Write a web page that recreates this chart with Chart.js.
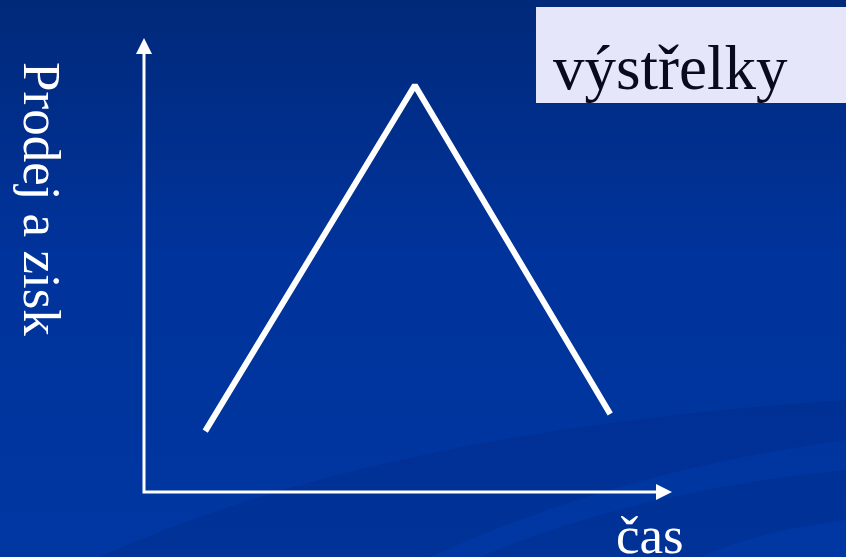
<!DOCTYPE html>
<html>
<head>
<meta charset="utf-8">
<script src="https://cdn.jsdelivr.net/npm/chart.js@4"></script>
<style>
  body { margin: 0; background: #002e8c; }
  #wrap { position: relative; width: 846px; height: 557px; overflow: hidden; font-family: "Liberation Serif", "DejaVu Serif", serif; }
  #chart { position: absolute; left: 0; top: 0; }
  .lbl { position: absolute; color: #ffffff; font-size: 53px; line-height: 53px; white-space: nowrap; }
  #ylab { left: 68px; top: 62px; transform-origin: 0 0; transform: rotate(90deg); }
  #xlab { left: 616px; top: 509px; }
  #box { position: absolute; left: 536px; top: 7px; width: 310px; height: 96px; background: #e6e6fa; }
  #box span { position: absolute; left: 17px; top: 30px; font-size: 63px; line-height: 63px; color: #0a0a1e; white-space: nowrap; }
</style>
</head>
<body>
<div id="wrap">
  <canvas id="chart" width="846" height="557"></canvas>
  <div class="lbl" id="ylab">Prodej a zisk</div>
  <div class="lbl" id="xlab">čas</div>
  <div id="box"><span>výstřelky</span></div>
</div>
<script>
// life cycle of a fad: quick rise, quick fall
const timeX = [11.6, 51.3, 88.3];
const salesProfit = [13.4, 89.6, 17.2];
const xRange = [0, 100];
const yRange = [0, 100];

const background = {
  id: 'background',
  beforeDraw(chart) {
    const ctx = chart.ctx;
    const w = chart.width, h = chart.height;
    ctx.save();
    const g = ctx.createLinearGradient(0, 0, 0, h);
    g.addColorStop(0, '#01297a');
    g.addColorStop(0.45, '#00339b');
    g.addColorStop(1, '#0037a2');
    ctx.fillStyle = g;
    ctx.fillRect(0, 0, w, h);

    // soft swooshes near the bottom
    ctx.fillStyle = 'rgba(0, 25, 100, 0.16)';
    ctx.beginPath();
    ctx.moveTo(100, h);
    ctx.quadraticCurveTo(380, 430, w, 400);
    ctx.lineTo(w, 440);
    ctx.quadraticCurveTo(620, 470, 430, h);
    ctx.closePath();
    ctx.fill();

    ctx.beginPath();
    ctx.moveTo(480, h);
    ctx.quadraticCurveTo(640, 490, w, 470);
    ctx.lineTo(w, 520);
    ctx.quadraticCurveTo(760, 530, 700, h);
    ctx.closePath();
    ctx.fill();
    ctx.restore();
  }
};

const arrowAxes = {
  id: 'arrowAxes',
  beforeDatasetsDraw(chart) {
    const { ctx, chartArea: a } = chart;
    ctx.save();
    ctx.strokeStyle = '#ffffff';
    ctx.fillStyle = '#ffffff';
    ctx.lineWidth = 3;
    ctx.beginPath();
    ctx.moveTo(a.left, a.top + 12);
    ctx.lineTo(a.left, a.bottom);
    ctx.lineTo(a.right - 12, a.bottom);
    ctx.stroke();
    // arrow heads
    ctx.beginPath();
    ctx.moveTo(a.left, a.top);
    ctx.lineTo(a.left - 8, a.top + 16);
    ctx.lineTo(a.left + 8, a.top + 16);
    ctx.closePath();
    ctx.fill();
    ctx.beginPath();
    ctx.moveTo(a.right, a.bottom);
    ctx.lineTo(a.right - 16, a.bottom - 8);
    ctx.lineTo(a.right - 16, a.bottom + 8);
    ctx.closePath();
    ctx.fill();
    ctx.restore();
  }
};

new Chart(document.getElementById('chart'), {
  type: 'line',
  data: {
    datasets: [{
      data: timeX.map((x, i) => ({ x: x, y: salesProfit[i] })),
      borderColor: '#ffffff',
      borderWidth: 6,
      borderCapStyle: 'butt',
      borderJoinStyle: 'bevel',
      pointRadius: 0,
      tension: 0,
      fill: false
    }]
  },
  options: {
    responsive: false,
    animation: false,
    layout: { padding: { left: 144, right: 174, top: 38, bottom: 65 } },
    plugins: { legend: { display: false }, tooltip: { enabled: false } },
    scales: {
      x: { type: 'linear', min: xRange[0], max: xRange[1], display: false },
      y: { min: yRange[0], max: yRange[1], display: false }
    }
  },
  plugins: [background, arrowAxes]
});
</script>
</body>
</html>
